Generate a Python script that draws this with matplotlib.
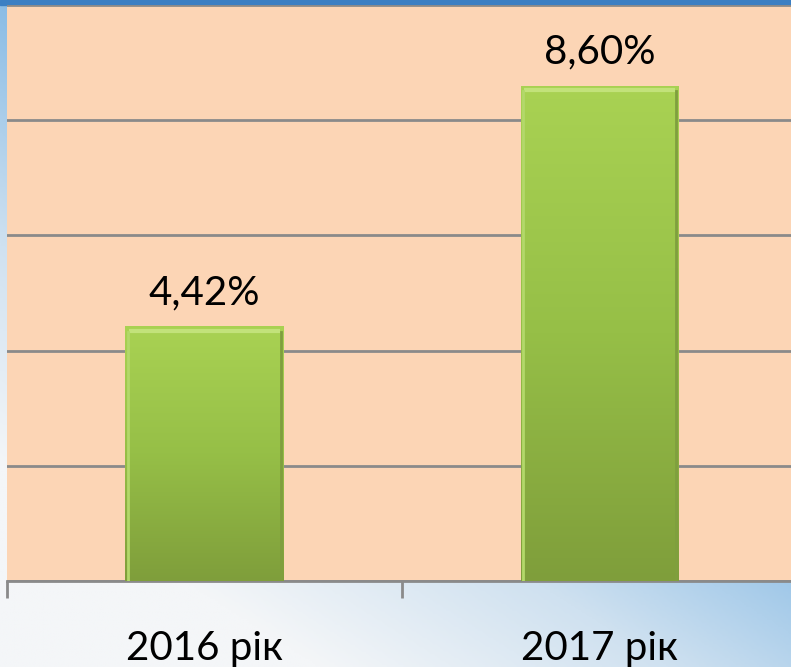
import numpy as np
import matplotlib.pyplot as plt
from matplotlib.colors import LinearSegmentedColormap

# --- data ---
categories = ['2016 рік', '2017 рік']
values = [4.42, 8.60]
value_labels = ['4,42%', '8,60%']
y_ticks = [0, 2, 4, 6, 8, 10]

plt.rcParams['font.family'] = ['Lato', 'DejaVu Sans']

fig = plt.figure(figsize=(7.91, 6.67), dpi=100)

# --- background (blue slide with light lower-left) ---
bg = fig.add_axes([0, 0, 1, 1], zorder=0)
bg.set_axis_off()
xx, yy = np.meshgrid(np.linspace(0, 1, 300), np.linspace(0, 1, 300))
t = np.clip(0.75 * xx + 1.0 * yy - 0.3, 0, 1)
bg_cmap = LinearSegmentedColormap.from_list('bg', ['#f4f6f8', '#cfe1f0', '#8fbfe6', '#5f9fd8'])
bg.imshow(t, cmap=bg_cmap, extent=[0, 1, 0, 1], origin='lower', aspect='auto')
bg.set_xlim(0, 1)
bg.set_ylim(0, 1)
bg.axhspan(0.993, 1.0, color='#3b7fc3')

# --- main axes ---
W, H = 791, 667
left, right, top, bottom = 7, 797, 5, 581
ax = fig.add_axes([left / W, 1 - bottom / H, (right - left) / W, (bottom - top) / H], zorder=1)
ax.set_facecolor('#fcd5b5')

x = np.arange(len(categories))
bars = ax.bar(x, values, width=0.4, color='#9cc64a', zorder=3, linewidth=0)

# gradient overlay clipped to each bar
bar_cmap = LinearSegmentedColormap.from_list('bar', ['#7f9e3b', '#96bf47', '#a9d253'])
grad = np.linspace(0, 1, 256).reshape(-1, 1)
for b in bars:
    x0, w, h = b.get_x(), b.get_width(), b.get_height()
    im = ax.imshow(grad, cmap=bar_cmap, extent=[x0, x0 + w, 0, h], origin='lower',
                   aspect='auto', zorder=3.5)
    im.set_clip_path(b)
    # bevel highlight on top
    ax.plot([x0 + 0.01, x0 + w - 0.01], [h - 0.08, h - 0.08], color='#c2e27a', lw=3,
            zorder=4, solid_capstyle='butt')
    ax.plot([x0 + 0.006, x0 + 0.006], [0, h - 0.1], color='#b3d86a', lw=2, zorder=4)
    ax.plot([x0 + w - 0.006, x0 + w - 0.006], [0, h - 0.1], color='#7f9f3e', lw=2, zorder=4)

for xi, v, lbl in zip(x, values, value_labels):
    ax.text(xi, v + 0.38, lbl, ha='center', va='baseline', fontsize=29, color='black', zorder=5)

# category labels below the axis
for xi, lbl in zip(x, categories):
    ax.text(xi, -1.37, lbl, ha='center', va='baseline', fontsize=29, color='black',
            clip_on=False, zorder=5)

ax.set_xlim(-0.5, 1.5)
ax.set_ylim(0, 10)
ax.set_yticks(y_ticks)
ax.yaxis.grid(True, color='#8a8a8a', linewidth=2, zorder=1)
ax.tick_params(axis='y', left=False, labelleft=False)

ax.set_xticks(x)
ax.set_xticklabels([])
ax.tick_params(axis='x', length=0)
ax.set_xticks([-0.5, 0.5, 1.5], minor=True)
ax.tick_params(axis='x', which='minor', length=12, width=2, color='#8a8a8a')

for s in ['top', 'left', 'right']:
    ax.spines[s].set_visible(False)
ax.spines['bottom'].set_color('#8a8a8a')
ax.spines['bottom'].set_linewidth(2)
ax.set_axisbelow(True)

fig.savefig('out.png', dpi=100)
